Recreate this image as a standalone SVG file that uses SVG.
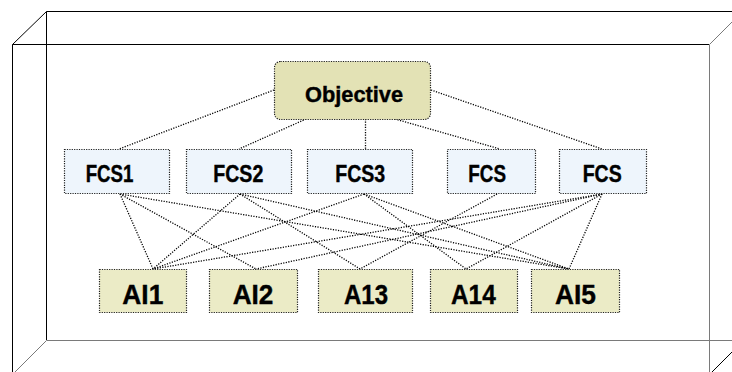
<svg xmlns="http://www.w3.org/2000/svg" width="732" height="372" viewBox="0 0 732 372">
<style>
.fr{stroke:#000;stroke-width:1;fill:none}
.fg{stroke:#7a7a7a;stroke-width:1;fill:none}
.c{stroke:#000;stroke-width:1.3;stroke-dasharray:1.2 1.4;fill:none}
.b{stroke:#222;stroke-width:1.2;stroke-dasharray:1.2 1.2}
.obj{fill:#e3e2b5}
.fcs{fill:#eef5fc}
.ai{fill:#ebebc6}
text{font-family:"Liberation Sans",Arial,sans-serif;font-weight:bold;fill:#000;stroke:#000;stroke-width:0.4}
</style>
<rect width="732" height="372" fill="#fff"/>
<g id="frame">
<line class="fr" x1="46.5" y1="11.5" x2="732" y2="11.5"/>
<line class="fr" x1="46.5" y1="11.5" x2="46.5" y2="340"/>
<line class="fg" x1="46.5" y1="340.5" x2="732" y2="340.5"/>
<line class="fr" x1="12.5" y1="44.5" x2="709" y2="44.5"/>
<line class="fr" x1="12.5" y1="44.5" x2="12.5" y2="372"/>
<line class="fg" x1="709.5" y1="44.5" x2="709.5" y2="372"/>
<line class="fr" x1="12.5" y1="44.5" x2="46.5" y2="11.5"/>
<line class="fg" x1="709.5" y1="44.5" x2="743.5" y2="10.5"/>
<line class="fg" x1="12.5" y1="374.5" x2="46.5" y2="340.5"/>
<line class="fr" x1="709.5" y1="374.5" x2="743.5" y2="340.5"/>
</g>
<g id="connectors">
<line class="c" x1="274" y1="90" x2="119" y2="149"/>
<line class="c" x1="306" y1="119" x2="239" y2="149"/>
<line class="c" x1="365.5" y1="119" x2="365.5" y2="149"/>
<line class="c" x1="395" y1="119" x2="500" y2="149"/>
<line class="c" x1="431" y1="90" x2="602" y2="149"/>
<line class="c" x1="120" y1="194" x2="153" y2="269"/>
<line class="c" x1="120" y1="194" x2="256" y2="269"/>
<line class="c" x1="120" y1="194" x2="569" y2="269"/>
<line class="c" x1="240" y1="194" x2="153" y2="269"/>
<line class="c" x1="240" y1="194" x2="360" y2="269"/>
<line class="c" x1="240" y1="194" x2="569" y2="269"/>
<line class="c" x1="364" y1="194" x2="153" y2="269"/>
<line class="c" x1="364" y1="194" x2="466" y2="269"/>
<line class="c" x1="364" y1="194" x2="569" y2="269"/>
<line class="c" x1="497" y1="194" x2="360" y2="269"/>
<line class="c" x1="602" y1="194" x2="153" y2="269"/>
<line class="c" x1="602" y1="194" x2="256" y2="269"/>
<line class="c" x1="602" y1="194" x2="466" y2="269"/>
<line class="c" x1="602" y1="194" x2="569" y2="269"/>
</g>
<g id="objective">
<rect class="obj b" x="274.5" y="61.5" width="156" height="58" rx="6"/>
<text x="305" y="101.5" font-size="22" textLength="98" lengthAdjust="spacingAndGlyphs">Objective</text>
</g>
<g id="fcs1">
<rect class="fcs b" x="64.5" y="149.5" width="105" height="44"/>
<text x="85.7" y="181.5" font-size="23" textLength="47.7" lengthAdjust="spacingAndGlyphs">FCS1</text>
</g>
<g id="fcs2">
<rect class="fcs b" x="186.5" y="149.5" width="105" height="44"/>
<text x="213.3" y="181.5" font-size="23" textLength="50" lengthAdjust="spacingAndGlyphs">FCS2</text>
</g>
<g id="fcs3">
<rect class="fcs b" x="307.5" y="149.5" width="105" height="44"/>
<text x="335.2" y="181.5" font-size="23" textLength="50" lengthAdjust="spacingAndGlyphs">FCS3</text>
</g>
<g id="fcs4">
<rect class="fcs b" x="447.5" y="149.5" width="88" height="44"/>
<text x="468.3" y="181.5" font-size="23" textLength="37.7" lengthAdjust="spacingAndGlyphs">FCS</text>
</g>
<g id="fcs5">
<rect class="fcs b" x="559.5" y="149.5" width="87" height="44"/>
<text x="582.7" y="181.5" font-size="23" textLength="39" lengthAdjust="spacingAndGlyphs">FCS</text>
</g>
<g id="ai1">
<rect class="ai b" x="99.5" y="269.5" width="87" height="43"/>
<text x="122.3" y="304" font-size="28" textLength="41" lengthAdjust="spacingAndGlyphs">AI1</text>
</g>
<g id="ai2">
<rect class="ai b" x="209.5" y="269.5" width="88" height="43"/>
<text x="232.7" y="304" font-size="28" textLength="40.7" lengthAdjust="spacingAndGlyphs">AI2</text>
</g>
<g id="a13">
<rect class="ai b" x="318.5" y="269.5" width="94" height="43"/>
<text x="344" y="304" font-size="28" textLength="44" lengthAdjust="spacingAndGlyphs">A13</text>
</g>
<g id="a14">
<rect class="ai b" x="430.5" y="269.5" width="87" height="43"/>
<text x="451" y="304" font-size="28" textLength="44.7" lengthAdjust="spacingAndGlyphs">A14</text>
</g>
<g id="ai5">
<rect class="ai b" x="531.5" y="269.5" width="88" height="43"/>
<text x="555" y="304" font-size="28" textLength="41" lengthAdjust="spacingAndGlyphs">AI5</text>
</g>
</svg>
